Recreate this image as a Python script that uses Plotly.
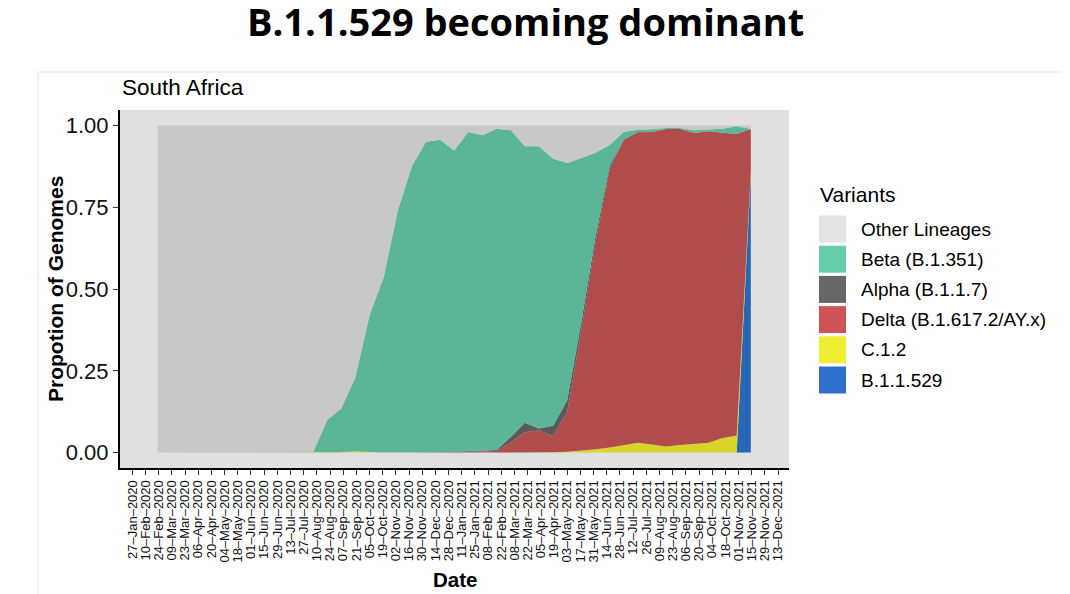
import plotly.graph_objects as go

# ---- data (semi-monthly sample dates, proportions of genomes) ----
dates = [
    "2020-02-23", "2020-03-09", "2020-03-24", "2020-04-08", "2020-04-23",
    "2020-05-08", "2020-05-23", "2020-06-07", "2020-06-22", "2020-07-07",
    "2020-07-22", "2020-08-06", "2020-08-21", "2020-09-05", "2020-09-20",
    "2020-10-05", "2020-10-20", "2020-11-04", "2020-11-19", "2020-12-04",
    "2020-12-19", "2021-01-03", "2021-01-18", "2021-02-02", "2021-02-17",
    "2021-03-04", "2021-03-19", "2021-04-03", "2021-04-18", "2021-05-03",
    "2021-05-18", "2021-06-02", "2021-06-17", "2021-07-02", "2021-07-17",
    "2021-08-01", "2021-08-16", "2021-08-31", "2021-09-15", "2021-09-30",
    "2021-10-15", "2021-10-30", "2021-11-14",
]

other = [1, 1, 1, 1, 1, 1, 1, 1, 1, 1,
         1, 1, 0.90, 0.865, 0.77, 0.58, 0.465, 0.26, 0.125, 0.05,
         0.044, 0.077, 0.02, 0.03, 0.01, 0.015, 0.064, 0.064, 0.102, 0.115,
         0.10, 0.084, 0.06, 0.02, 0.013, 0.012, 0.008, 0.008, 0.015, 0.013,
         0.01, 0.003, 0.01]
beta = [0, 0, 0, 0, 0, 0, 0, 0, 0, 0,
        0, 0, 0.10, 0.133, 0.226, 0.419, 0.535, 0.74, 0.875, 0.95,
        0.956, 0.921, 0.975, 0.964, 0.982, 0.937, 0.845, 0.862, 0.816, 0.725,
        0.50, 0.256, 0.065, 0.023, 0.007, 0.008, 0.003, 0.003, 0.008, 0.005,
        0.013, 0.023, 0.001]
alpha = [0, 0, 0, 0, 0, 0, 0, 0, 0, 0,
         0, 0, 0, 0, 0, 0, 0, 0, 0, 0,
         0, 0, 0.002, 0.002, 0.003, 0.017, 0.029, 0.006, 0.032, 0.035,
         0.025, 0.02, 0.01, 0.002, 0.001, 0, 0, 0, 0, 0,
         0, 0, 0]
delta = [0, 0, 0, 0, 0, 0, 0, 0, 0, 0,
         0, 0, 0, 0, 0, 0, 0, 0, 0, 0,
         0, 0.002, 0.003, 0.004, 0.005, 0.031, 0.062, 0.068, 0.049, 0.122,
         0.369, 0.63, 0.849, 0.931, 0.949, 0.955, 0.97, 0.966, 0.951, 0.952,
         0.932, 0.922, 0.129]
c12 = [0, 0, 0, 0, 0, 0, 0, 0, 0, 0,
       0, 0, 0, 0.002, 0.004, 0.001, 0, 0, 0, 0,
       0, 0, 0, 0, 0, 0, 0, 0, 0.001, 0.003,
       0.006, 0.01, 0.016, 0.024, 0.03, 0.025, 0.019, 0.023, 0.026, 0.03,
       0.045, 0.052, 0.01]
omicron = [0] * 42 + [0.85]

variant_names = ["Other Lineages", "Beta (B.1.351)", "Alpha (B.1.1.7)",
                 "Delta (B.1.617.2/AY.x)", "C.1.2", "B.1.1.529"]
series = [other, beta, alpha, delta, c12, omicron]
area_colors = ["#C8C8C8", "#5BB597", "#5A5A5A", "#B04C4C", "#D8D42C", "#2866B6"]
key_colors = ["#E3E3E3", "#66CDAA", "#666666", "#CD5555", "#EEEE33", "#2E70CC"]

y_ticks = [0, 0.25, 0.5, 0.75, 1.0]

# ---- figure (page body has an 8px margin, so the figure is 8px smaller) ----
OFF = 8
W, H = 1070 - OFF, 594 - OFF
L, T = 120 - OFF, 110 - OFF
PW, PH = 669, 358
R, B = W - L - PW, H - T - PH


def px(x):  # screen x -> paper
    return (x - OFF - L) / PW


def py(y):  # screen y -> paper
    return (H - B - (y - OFF)) / PH


FONT = "Liberation Sans, Arial, sans-serif"

fig = go.Figure()
# stack bottom-up: reverse of legend order
for name, vals, col in reversed(list(zip(variant_names, series, area_colors))):
    fig.add_trace(go.Scatter(
        x=dates, y=vals, name=name, stackgroup="one", mode="lines",
        line=dict(width=0, color=col), fillcolor=col, showlegend=False,
        hoverinfo="x+y+name",
    ))

fig.update_layout(
    width=W, height=H,
    margin=dict(l=L, r=R, t=T, b=B, autoexpand=False),
    paper_bgcolor="white", plot_bgcolor="#E0E0E0",
    font=dict(family=FONT, color="black"),
    showlegend=False,
)

fig.update_xaxes(
    type="date", range=["2020-01-13 22:00", "2021-12-24 14:00"],
    tick0="2020-01-27", dtick=14 * 86400000, tickformat="%d\u2013%b\u2013%Y",
    tickangle=-90, tickfont=dict(size=13, color="#111"),
    ticks="outside", ticklen=5, tickcolor="#333", tickwidth=1,
    showgrid=False, zeroline=False,
    showline=True, linecolor="black", linewidth=2,
)
fig.update_yaxes(
    range=[-0.047, 1.047], tickvals=y_ticks, tickformat=".2f",
    tickfont=dict(size=22, color="#111"),
    ticks="outside", ticklen=5, tickcolor="#333", tickwidth=1,
    showgrid=False, zeroline=False,
    showline=True, linecolor="black", linewidth=2,
)

ann = []
ann.append(dict(text="<b>B.1.1.529 becoming dominant</b>", x=px(525), y=py(21),
                xref="paper", yref="paper", showarrow=False,
                xanchor="center", yanchor="middle",
                font=dict(family="Open Sans, Lato, sans-serif", size=38, color="black")))
ann.append(dict(text="South Africa", x=px(120), y=py(87), xref="paper", yref="paper",
                showarrow=False, xanchor="left", yanchor="middle",
                font=dict(size=22.5, color="black")))
ann.append(dict(text="<b>Propotion of Genomes</b>", x=px(55), y=0.5, xref="paper",
                yref="paper", showarrow=False, textangle=-90,
                xanchor="center", yanchor="middle", font=dict(size=21)))
ann.append(dict(text="<b>Date</b>", x=0.5, y=py(579), xref="paper", yref="paper",
                showarrow=False, xanchor="center", yanchor="middle",
                font=dict(size=20.5)))
ann.append(dict(text="Variants", x=px(818), y=py(194), xref="paper", yref="paper",
                showarrow=False, xanchor="left", yanchor="middle",
                font=dict(size=21)))

shapes = []
key_top = 215.5
step = 30.2
for i, (name, col) in enumerate(zip(variant_names, key_colors)):
    y0 = key_top + i * step
    y1 = y0 + 27
    shapes.append(dict(type="rect", xref="paper", yref="paper",
                       x0=px(819), x1=px(846), y0=py(y1), y1=py(y0),
                       fillcolor=col, line=dict(width=0), layer="above"))
    ann.append(dict(text=name, x=px(859), y=py((y0 + y1) / 2), xref="paper",
                    yref="paper", showarrow=False, xanchor="left", yanchor="middle",
                    font=dict(size=19)))

# faint outer frame of the slide image
shapes.append(dict(type="rect", xref="paper", yref="paper",
                   x0=px(38), x1=px(1067), y0=py(600), y1=py(72),
                   line=dict(color="#E2E2E2", width=1), fillcolor="rgba(0,0,0,0)",
                   layer="below"))

fig.update_layout(annotations=ann, shapes=shapes)

fig.write_html("out.html")
